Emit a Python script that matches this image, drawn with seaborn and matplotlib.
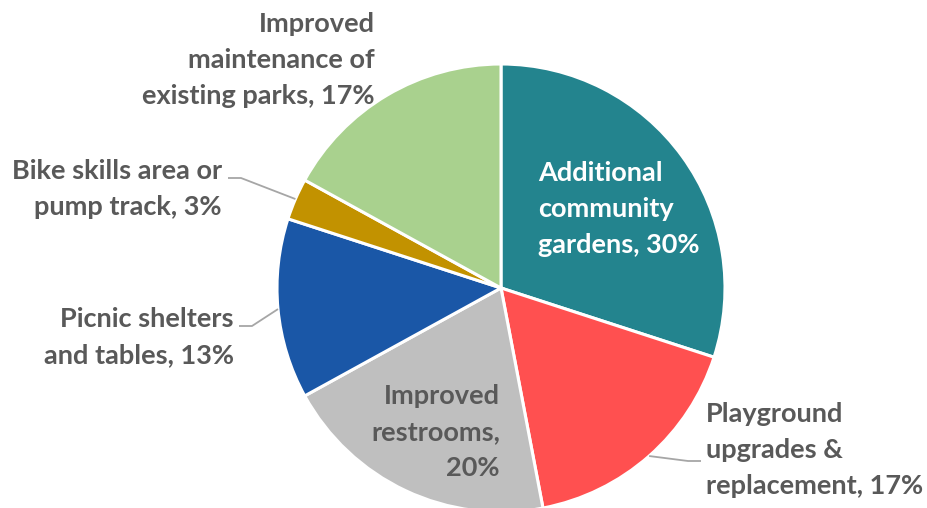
import numpy as np
import matplotlib
matplotlib.use("Agg")
import matplotlib.pyplot as plt
import seaborn as sns

# Survey results: share of responses per park improvement
categories = [
    "Additional\ncommunity\ngardens, 30%",
    "Playground\nupgrades &\nreplacement, 17%",
    "Improved\nrestrooms,\n20%",
    "Picnic shelters\nand tables, 13%",
    "Bike skills area or\npump track, 3%",
    "Improved\nmaintenance of\nexisting parks, 17%",
]
shares = [30, 17, 20, 13, 3, 17]
slice_colors = ["#23848E", "#FF5050", "#BFBFBF", "#1A57A7", "#C29200", "#A9D18E"]

sns.set_theme(style="white")
plt.rcParams["font.family"] = ["Lato", "DejaVu Sans"]
palette = sns.color_palette(slice_colors)

W, H = 927, 508
fig = plt.figure(figsize=(W / 100, H / 100), dpi=100)
ax = fig.add_axes([0, 0, 1, 1])

cx, cy, R = 501, H - 288, 224
wedges, _ = ax.pie(
    shares, colors=palette, startangle=90, counterclock=False,
    radius=R, center=(cx, cy), frame=True,
    wedgeprops=dict(edgecolor="white", linewidth=2.2),
)
ax.set_xlim(0, W)
ax.set_ylim(0, H)
ax.set_aspect("equal")
ax.axis("off")

txt = "#595959"
fs = 19.5
ls = 1.58

def edge_point(w, r=1.0):
    mid = np.deg2rad((w.theta1 + w.theta2) / 2)
    return cx + R * r * np.cos(mid), cy + R * r * np.sin(mid)

# Labels (pixel layout, y measured from top)
def put(label, x, ytop, ha, color=txt):
    ax.text(x, H - ytop, label, ha=ha, va="center", fontsize=fs,
            fontweight="bold", color=color, linespacing=ls)

put(categories[0], 538, 209, "left", color="white")
put(categories[1], 706, 450, "left")
put(categories[2], 500, 432, "right")
put(categories[3], 234, 337, "right")
put(categories[4], 222, 189, "right")
put(categories[5], 375, 60, "right")

# Leader lines from slice edges to outside labels
def leader(w, elbow, end):
    x0, y0 = edge_point(w)
    ax.plot([x0, elbow[0], end[0]], [y0, H - elbow[1], H - end[1]],
            color="#A6A6A6", lw=1.3, solid_capstyle="butt")

leader(wedges[1], (688, 461), (701, 461))
leader(wedges[3], (252, 326), (239, 326))
leader(wedges[4], (241, 178), (228, 178))

fig.savefig("out.png", dpi=100)
